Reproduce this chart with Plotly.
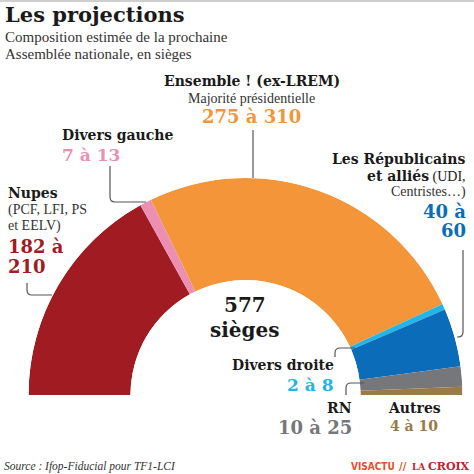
import math
import plotly.graph_objects as go

# ---- data ----
parties = ["Nupes", "Divers gauche", "Ensemble !", "Divers droite", "Les Républicains", "RN", "Autres"]
seats_low = [182, 7, 275, 2, 40, 10, 4]
seats_high = [210, 13, 310, 8, 60, 25, 10]
seats_mid = [(a + b) / 2 for a, b in zip(seats_low, seats_high)]
colors = ["#a01c22", "#eb90b3", "#f5953a", "#22b5e8", "#0b6dba", "#76777a", "#9b7a46"]
total_seats = 577

W = H = 474
total = sum(seats_mid)
widths = [v * 180.0 / total for v in seats_mid]
centers = []
acc = 0.0
for w in widths:
    centers.append(acc + w / 2)
    acc += w

def px(x):
    return x / W

def py(y):
    return 1 - y / H

fig = go.Figure()
fig.add_trace(go.Barpolar(
    theta=centers, width=widths, r=[1] * len(seats_mid),
    marker=dict(color=colors, line=dict(width=0)),
    hoverinfo="skip", showlegend=False,
))

SERIF = "DejaVu Serif, Liberation Serif, serif"
REG = "Liberation Serif, serif"
annotations = []

def ann(text, x, y, size, color="#222", xanchor="left", bold=False, family=SERIF):
    if bold:
        text = "<b>" + text + "</b>"
    annotations.append(dict(text=text, x=px(x), y=py(y), xref="paper", yref="paper",
                            xanchor=xanchor, yanchor="middle", showarrow=False,
                            font=dict(family=family, size=size, color=color)))

# title block
ann("Les projections", 3, 15, 21, "#1a1a1a", bold=True)
ann("Composition estimée de la prochaine", 3, 37, 15, "#333", family=REG)
ann("Assemblée nationale, en sièges", 3, 54, 15, "#333", family=REG)

# Ensemble
ann("Ensemble ! (ex-LREM)", 252, 81, 14, "#1a1a1a", "center", bold=True)
ann("Majorité présidentielle", 252, 98, 14, "#333", "center", family=REG)
ann(f"{seats_low[2]} à {seats_high[2]}", 252, 117, 18, colors[2], "center", bold=True)

# Divers gauche
ann("Divers gauche", 60, 135, 14, "#1a1a1a", bold=True)
ann(f"{seats_low[1]} à {seats_high[1]}", 60, 155, 17, colors[1], bold=True)

# Nupes
ann("Nupes", 6, 193, 14, "#1a1a1a", bold=True)
ann("(PCF, LFI, PS", 6, 210, 14, "#333", family=REG)
ann("et EELV)", 6, 226, 14, "#333", family=REG)
ann(f"{seats_low[0]} à", 6, 246, 18, colors[0], bold=True)
ann(f"{seats_high[0]}", 6, 266, 18, colors[0], bold=True)

# LR
ann("Les Républicains", 468, 159, 14, "#1a1a1a", "right", bold=True)
ann("<b>et alliés</b><span style='font-family:Liberation Serif'> (UDI,</span>", 468, 176, 14, "#1a1a1a", "right")
ann("Centristes…)", 468, 192, 14, "#333", "right", family=REG)
ann(f"{seats_low[4]} à", 468, 211, 18, colors[4], "right", bold=True)
ann(f"{seats_high[4]}", 468, 231, 18, colors[4], "right", bold=True)

# Divers droite
ann("Divers droite", 336, 365, 14, "#1a1a1a", "right", bold=True)
ann(f"{seats_low[3]} à {seats_high[3]}", 336, 385, 17, colors[3], "right", bold=True)

# RN
ann("RN", 354, 408, 14, "#1a1a1a", "right", bold=True)
ann(f"{seats_low[5]} à {seats_high[5]}", 354, 427, 18, colors[5], "right", bold=True)

# Autres
ann("Autres", 414, 408, 14, "#1a1a1a", "center", bold=True)
ann(f"{seats_low[6]} à {seats_high[6]}", 414, 426, 14, colors[6], "center", bold=True)

# center
ann(f"{total_seats}", 245, 305, 20, "#1a1a1a", "center", bold=True)
ann("sièges", 245, 330, 20, "#1a1a1a", "center", bold=True)

# source + logo
ann("<i>Source : Ifop-Fiducial pour TF1-LCI</i>", 2, 466, 11.5, "#333", family=REG)
ann("<b>VISACTU</b>", 349, 466, 10, "#e8502a", family="DejaVu Sans Condensed, DejaVu Sans")
ann("<b>//</b>", 403, 466, 10, "#e8502a", "center", family="DejaVu Sans")
ann("<b>LA</b>", 410, 467, 9, "#c8202e")
ann("<b>CROIX</b>", 426, 466, 11, "#c8202e")

def straight(points):
    s = "M %f,%f" % (px(points[0][0]), py(points[0][1]))
    for p in points[1:]:
        s += " L %f,%f" % (px(p[0]), py(p[1]))
    return s

def rounded(p0, c, p1, r=5):
    def towards(a, b, d):
        dx, dy = b[0] - a[0], b[1] - a[1]
        L = math.hypot(dx, dy)
        return (a[0] + dx / L * d, a[1] + dy / L * d)
    a = towards(c, p0, r)
    b = towards(c, p1, r)
    return "M %f,%f L %f,%f Q %f,%f %f,%f L %f,%f" % (
        px(p0[0]), py(p0[1]), px(a[0]), py(a[1]), px(c[0]), py(c[1]),
        px(b[0]), py(b[1]), px(p1[0]), py(p1[1]))

shapes = []
line = dict(color="#555555", width=1.2)
shapes.append(dict(type="path", xref="paper", yref="paper", path=straight([(253, 130), (253, 178)]), line=line))
shapes.append(dict(type="path", xref="paper", yref="paper", path=rounded((110, 166), (110, 202), (146, 202)), line=line))
shapes.append(dict(type="path", xref="paper", yref="paper", path=rounded((27, 283), (27, 295), (52, 295)), line=line))
shapes.append(dict(type="path", xref="paper", yref="paper", path=rounded((463, 250), (463, 337), (457, 337)), line=line))
shapes.append(dict(type="path", xref="paper", yref="paper", path=rounded((335, 357), (335, 348), (355, 348)), line=line))
shapes.append(dict(type="path", xref="paper", yref="paper", path=rounded((346, 395), (346, 383), (364, 383)), line=line))
shapes.append(dict(type="rect", xref="paper", yref="paper", x0=0, x1=1, y0=py(2), y1=1,
                   line=dict(width=0), fillcolor="#cfcfcf"))

fig.update_layout(
    width=W, height=H,
    margin=dict(l=0, r=0, t=0, b=0),
    paper_bgcolor="white", plot_bgcolor="white",
    polar=dict(
        domain=dict(x=[px(28), px(463)], y=[py(395), py(178)]),
        sector=[0, 180], hole=0.53, bargap=0,
        bgcolor="rgba(0,0,0,0)",
        radialaxis=dict(visible=False, range=[0, 1]),
        angularaxis=dict(visible=False, rotation=180, direction="clockwise"),
    ),
    annotations=annotations,
    shapes=shapes,
)

fig.write_html("out.html", config={"displayModeBar": False},
               post_script="document.body.style.margin='0';document.body.style.overflow='hidden';")
